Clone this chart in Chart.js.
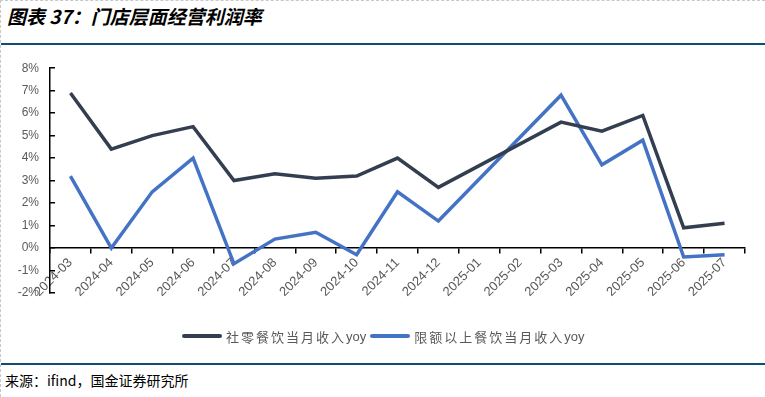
<!DOCTYPE html>
<html>
<head>
<meta charset="utf-8">
<script src="https://cdn.jsdelivr.net/npm/chart.js"></script>
<style>
  body { margin: 0; background: #fff; }
  #page { position: relative; width: 765px; height: 397px; overflow: hidden; background: #fff;
          border-top: 1px dashed #c8c8c8; border-left: 1px dashed #c8c8c8; box-sizing: border-box;
          font-family: "Noto Sans CJK SC", "Liberation Sans", sans-serif; }
  #title { position: absolute; left: 6px; top: 2px; font-size: 19px; font-weight: bold; font-style: italic;
           color: #000; line-height: 25px; white-space: nowrap; }
  .rule { position: absolute; left: 0; width: 765px; height: 2px; background: #0d4f70; }
  #chartBox { position: absolute; left: 0; top: 44px; width: 765px; height: 306px; }
  #legend { position: absolute; left: 181px; top: 326px; height: 18px; display: flex; align-items: center;
            font-size: 13px; color: #595959; white-space: nowrap; }
  .item { display: flex; align-items: center; }
  .swatch { width: 40px; height: 4px; border-radius: 2px; margin-right: 4px; }
  .cjk { letter-spacing: 2px; }
  .lat { font-family: "Liberation Sans", sans-serif; margin-right: 4px; }
  #source { position: absolute; left: 4px; top: 370px; font-size: 14px; color: #000; line-height: 19px; white-space: nowrap; }
</style>
</head>
<body>
<div id="page">
  <div id="title">图表 37：门店层面经营利润率</div>
  <div class="rule" style="top:42px"></div>
  <div id="chartBox"><canvas id="chart" width="765" height="306"></canvas></div>
  <div id="legend"></div>
  <div class="rule" style="top:362px"></div>
  <div id="source">来源：ifind，国金证券研究所</div>
</div>
<script>
const months = ['2024-03', '2024-04', '2024-05', '2024-06', '2024-07', '2024-08', '2024-09', '2024-10',
                '2024-11', '2024-12', '2025-01', '2025-02', '2025-03', '2025-04', '2025-05', '2025-06', '2025-07'];
// 1-2月无单月数据，折线直接连接
const retailCatering = [6.9, 4.4, 5.0, 5.4, 3.0, 3.3, 3.1, 3.2, 4.0, 2.7, null, null, 5.6, 5.2, 5.9, 0.9, 1.1];
const aboveQuotaCatering = [3.2, 0.0, 2.5, 4.0, -0.7, 0.4, 0.7, -0.3, 2.5, 1.2, null, null, 6.8, 3.7, 4.8, -0.4, -0.3];
const seriesNames = ['社零餐饮当月收入yoy', '限额以上餐饮当月收入yoy'];
const seriesColors = ['#333f50', '#4472c4'];
const yTicks = [-2, -1, 0, 1, 2, 3, 4, 5, 6, 7, 8];

const tickFont = { family: '"Liberation Sans", Arial, sans-serif', size: 12 };

const chart = new Chart(document.getElementById('chart'), {
    type: 'line',
    data: {
        labels: months,
        datasets: [
            { label: seriesNames[0], data: retailCatering, borderColor: seriesColors[0], backgroundColor: seriesColors[0] },
            { label: seriesNames[1], data: aboveQuotaCatering, borderColor: seriesColors[1], backgroundColor: seriesColors[1] }
        ].map(ds => Object.assign(ds, { borderWidth: 3.5, pointRadius: 0, tension: 0, spanGaps: true, fill: false }))
    },
    options: {
        responsive: false,
        maintainAspectRatio: false,
        animation: false,
        layout: { padding: { left: 0, right: 21, top: 4, bottom: 58 } },
        plugins: { legend: { display: false }, tooltip: { enabled: false } },
        scales: {
            x: {
                type: 'category',
                position: { y: 0 },
                offset: true,
                grid: { display: true, drawOnChartArea: false, offset: true, tickLength: 5, color: '#000', lineWidth: 1.5 },
                border: { display: true, color: '#000', width: 1.5 },
                ticks: { autoSkip: false, maxRotation: 45, minRotation: 45, color: '#595959',
                         font: Object.assign({}, tickFont, { size: 13 }), padding: 2 }
            },
            y: {
                min: -2,
                max: 8,
                afterBuildTicks: axis => { axis.ticks = yTicks.map(v => ({ value: v })); },
                afterFit: axis => { axis.width = 49; },
                grid: { display: true, drawOnChartArea: false, tickLength: -5, color: '#000', lineWidth: 1.5 },
                border: { display: true, color: '#000', width: 1.5 },
                ticks: { autoSkip: false, color: '#595959', font: tickFont, padding: 16, callback: v => v + '%' }
            }
        }
    }
});

// 图例
const legend = document.getElementById('legend');
seriesNames.forEach((name, i) => {
    const item = document.createElement('div');
    item.className = 'item';
    const cjk = name.replace('yoy', '');
    item.innerHTML = `<span class="swatch" style="background:${seriesColors[i]}"></span>` +
                     `<span class="cjk">${cjk}</span><span class="lat">yoy</span>`;
    legend.appendChild(item);
});
</script>
</body>
</html>
